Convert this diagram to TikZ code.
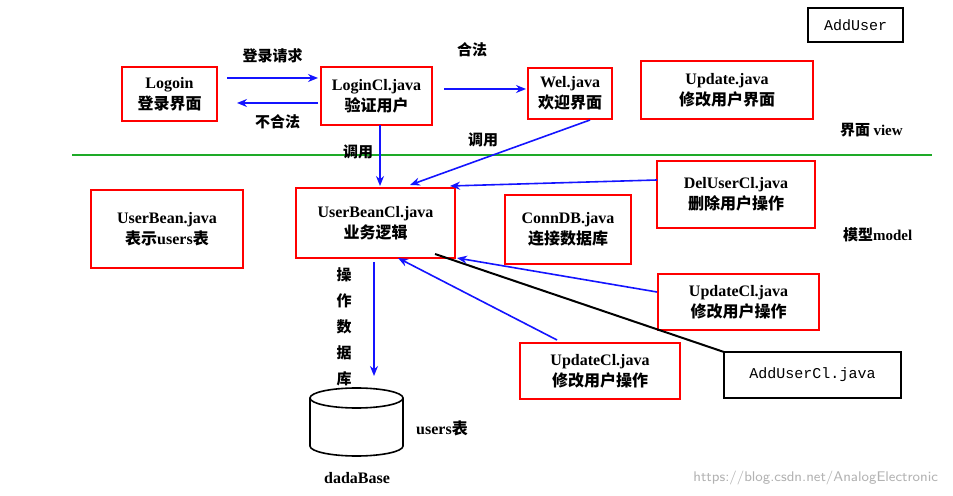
\documentclass[tikz,border=0pt]{standalone}
\usepackage{fontspec}
\setmainfont{Liberation Serif}
\newfontfamily\cjk{Noto Sans CJK SC}
\newfontfamily\mono{Liberation Mono}
\usetikzlibrary{shapes.geometric,arrows.meta}
\begin{document}
\begin{tikzpicture}[x=0.5pt,y=-0.5pt,
  rb/.style={draw=red,line width=0.8pt,fill=white,align=center,font=\fontsize{8}{10.5}\selectfont\bfseries},
  kb/.style={draw=black,line width=1pt,fill=white,font=\fontsize{7.5}{9}\selectfont\mono},
  ar/.style={draw={rgb,255:red,20;green,20;blue,255},line width=0.8pt,-{Stealth[length=5pt,width=4pt]}},
  lb/.style={font=\fontsize{7.5}{9}\selectfont\cjk\bfseries}]
\useasboundingbox (0,0) rectangle (953,496);
\fill[white] (0,0) rectangle (953,496);
\newcommand{\bx}[6]{\node[#6,minimum width={0.5pt*(#4-#2)},minimum height={0.5pt*(#5-#3)},inner sep=0pt] (#1) at ({(#2+#4)/2},{(#3+#5)/2}) {};}
\bx{logoin}{122}{67}{217}{121}{rb}
\node[rb,draw=none,fill=none] at (logoin) {Logoin\\{\cjk 登录界面}};
\bx{login}{321}{67}{432}{125}{rb}
\node[rb,draw=none,fill=none] at (login) {LoginCl.java\\{\cjk 验证用户}};
\bx{wel}{528}{68}{612}{119}{rb}
\node[rb,draw=none,fill=none] at (wel) {Wel.java\\{\cjk 欢迎界面}};
\bx{upd}{641}{61}{813}{119}{rb}
\node[rb,draw=none,fill=none] at (upd) {Update.java\\{\cjk 修改用户界面}};
\bx{adduser}{808}{8}{903}{42}{kb}
\node[kb,draw=none,fill=none] at (adduser) {AddUser};
\node[lb,anchor=west] (view) at (833,130) {界面 {\rmfamily view}};
\draw[draw={rgb,255:red,30;green,170;blue,40},line width=1.2pt] (72,155) coordinate (g1) -- (932,155) coordinate (g2);
\bx{ubean}{91}{190}{243}{268}{rb}
\node[rb,draw=none,fill=none] at (ubean) {UserBean.java\\{\cjk 表示}users{\cjk 表}};
\bx{ubcl}{296}{188}{455}{258}{rb}
\node[rb,draw=none,fill=none] at (ubcl) {UserBeanCl.java\\{\cjk 业务逻辑}};
\bx{conn}{505}{195}{631}{264}{rb}
\node[rb,draw=none,fill=none] at (conn) {ConnDB.java\\{\cjk 连接数据库}};
\bx{del}{657}{161}{815}{228}{rb}
\node[rb,draw=none,fill=none] at (del) {DelUserCl.java\\{\cjk 删除用户操作}};
\node[lb,anchor=west] (model) at (836,235) {模型{\rmfamily model}};
\bx{upcl}{658}{274}{819}{330}{rb}
\node[rb,draw=none,fill=none] at (upcl) {UpdateCl.java\\{\cjk 修改用户操作}};
\bx{upcl2}{520}{343}{680}{399}{rb}
\node[rb,draw=none,fill=none] at (upcl2) {UpdateCl.java\\{\cjk 修改用户操作}};
\draw[line width=1pt] (435,254) coordinate (ac) -- (724,352) coordinate (ad);
\bx{addcl}{724}{352}{901}{398}{kb}
\node[kb,draw=none,fill=none] at (addcl) {AddUserCl.java};
% cylinder
\draw[line width=0.8pt,fill=white] (310,398) -- (310,446) arc[start angle=180,end angle=360,x radius=46.5,y radius=-10] -- (403,398);
\draw[line width=0.8pt,fill=white] (356.5,398) ellipse [x radius=46.5,y radius=10];
\node[font=\fontsize{8}{10}\selectfont\bfseries] (users) at (442,428) {users{\cjk 表}};
\node[font=\fontsize{8}{10}\selectfont\bfseries] (dada) at (357,478) {dadaBase};
% arrows
\draw[ar] (227,78) -- node[lb,above=4pt] {登录请求} (318,78);
\draw[ar] (318,103) -- node[lb,below=2pt] {不合法} (237,103);
\draw[ar] (444,89) -- (526,89);
\node[lb] (hefa) at (472,50) {合法};
\draw[ar] (380,125) -- (380,186);
\node[lb] (dy1) at (358,152) {调用};
\draw[ar] (590,120) -- (410,185);
\node[lb] (dy2) at (483,140) {调用};
\draw[ar] (657,180) -- (450,186);
\draw[ar] (657,292) -- (457,258);
\draw[ar] (557,340) -- (398,258);
\draw[ar] (374,262) -- (374,376);
\node[lb,align=center,font=\fontsize{7.5}{13}\selectfont\cjk\bfseries] (czsjk) at (344,327) {操\\作\\数\\据\\库};
\node[font=\fontsize{7}{8}\selectfont\sffamily,text=gray!60,anchor=east] (wm) at (945,478) {https://blog.csdn.net/AnalogElectronic};
\end{tikzpicture}
\end{document}
